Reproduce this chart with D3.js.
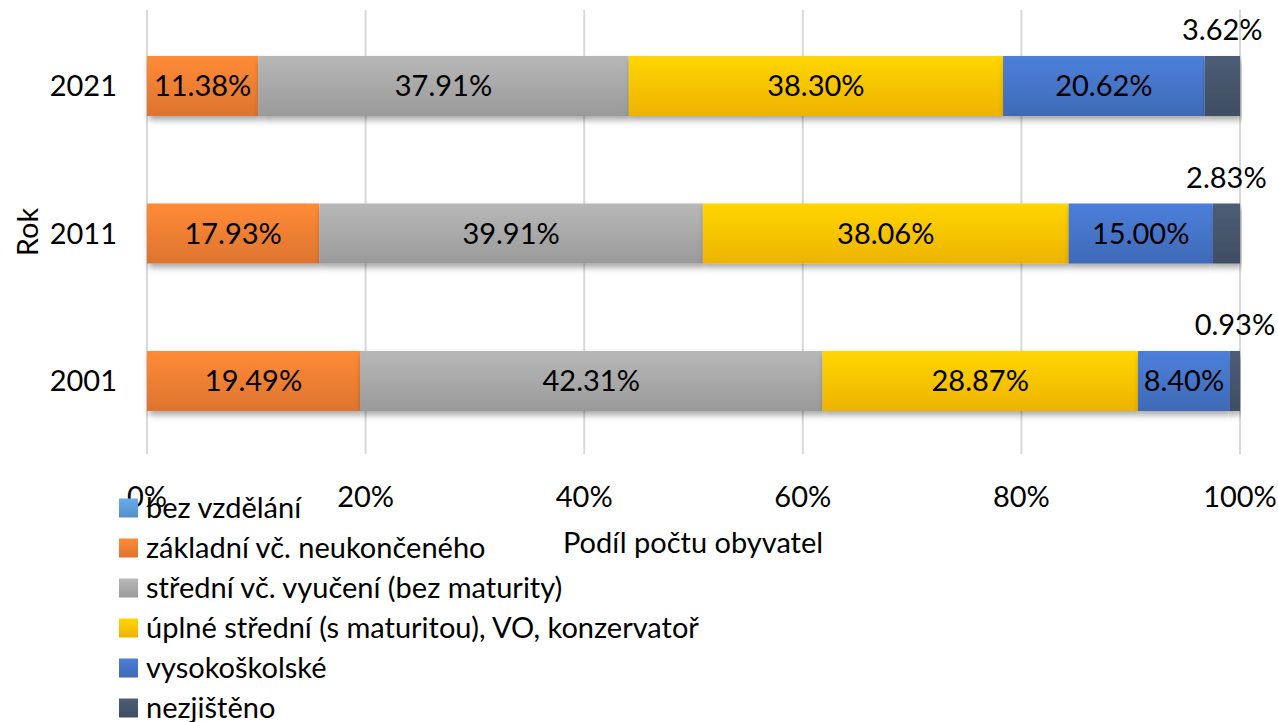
<!DOCTYPE html>
<html>
<head>
<meta charset="utf-8">
<script src="https://cdn.jsdelivr.net/npm/d3@7"></script>
<style>
  body { margin: 0; background: #fff; }
  text { font-family: Lato, "Noto Sans", sans-serif; fill: #000; }
</style>
</head>
<body>
<div id="chart"></div>
<script>
// data
var years = ["2021", "2011", "2001"];
var categories = ["bez vzdělání", "základní vč. neukončeného", "střední vč. vyučení (bez maturity)",
  "úplné střední (s maturitou), VO, konzervatoř", "vysokoškolské", "nezjištěno"];
var colors = ["#5B9BD5", "#ED7D31", "#A5A5A5", "#FFC000", "#4472C4", "#44546A"];
var bezVzdelani = [0, 0, 0];
var zakladni = [11.38, 17.93, 19.49];
var stredni = [37.91, 39.91, 42.31];
var uplneStredni = [38.30, 38.06, 28.87];
var vysokoskolske = [20.62, 15.00, 8.40];
var nezjisteno = [3.62, 2.83, 0.93];
var xTicks = [0, 0.2, 0.4, 0.6, 0.8, 1];

var series = [bezVzdelani, zakladni, stredni, uplneStredni, vysokoskolske, nezjisteno];
var rows = years.map(function(y, i) {
  var r = { year: y };
  categories.forEach(function(c, k) { r[c] = series[k][i]; });
  return r;
});

var width = 1278, height = 722, fs = 29;

var svg = d3.select("#chart").append("svg")
  .attr("width", width)
  .attr("height", height);

var defs = svg.append("defs");
colors.forEach(function(c, k) {
  var g = defs.append("linearGradient")
    .attr("id", "grad" + k)
    .attr("x1", 0).attr("y1", 0).attr("x2", 0).attr("y2", 1);
  g.append("stop").attr("offset", "0%").attr("stop-color", d3.color(c).brighter(0.3));
  g.append("stop").attr("offset", "100%").attr("stop-color", d3.color(c).darker(0.2));
});
var shadow = defs.append("filter").attr("id", "shadow")
  .attr("x", "-5%").attr("y", "-20%").attr("width", "110%").attr("height", "160%");
shadow.append("feDropShadow")
  .attr("dx", 2).attr("dy", 4).attr("stdDeviation", 3)
  .attr("flood-color", "#000").attr("flood-opacity", 0.35);

var x = d3.scaleLinear().domain([0, 1]).range([147, 1240]);
var y = d3.scalePoint().domain(years).range([86, 381]);
var barH = 60;

// gridlines
svg.append("g").selectAll("line")
  .data(xTicks)
  .enter().append("line")
  .attr("x1", function(d) { return x(d); })
  .attr("x2", function(d) { return x(d); })
  .attr("y1", 10)
  .attr("y2", 454)
  .style("stroke", "#d9d9d9")
  .style("stroke-width", "2px");

var stack = d3.stack().keys(categories).offset(d3.stackOffsetExpand);
var stacked = stack(rows);

var layer = svg.append("g").selectAll("g")
  .data(stacked)
  .enter().append("g")
  .attr("fill", function(d, k) { return "url(#grad" + k + ")"; });

layer.selectAll("rect")
  .data(function(d) { return d; })
  .enter().append("rect")
  .attr("x", function(d) { return x(d[0]); })
  .attr("y", function(d) { return y(d.data.year) - barH / 2; })
  .attr("width", function(d) { return x(d[1]) - x(d[0]); })
  .attr("height", barH)
  .style("filter", "url(#shadow)");

// labels
stacked.forEach(function(s, k) {
  if (k === 0) return;
  var last = k === categories.length - 1;
  svg.append("g").selectAll("text")
    .data(s)
    .enter().append("text")
    .attr("x", function(d) { return (x(d[0]) + x(d[1])) / 2; })
    .attr("y", function(d) { return y(d.data.year) + (last ? -56 : 0); })
    .attr("dy", "0.36em")
    .attr("text-anchor", "middle")
    .style("font-size", fs + "px")
    .text(function(d) { return d.data[s.key].toFixed(2) + "%"; });
});

// year labels
svg.append("g").selectAll("text")
  .data(years)
  .enter().append("text")
  .attr("x", 117)
  .attr("y", function(d) { return y(d); })
  .attr("dy", "0.36em")
  .attr("text-anchor", "end")
  .style("font-size", fs + "px")
  .text(function(d) { return d; });

svg.append("text")
  .attr("transform", "translate(38,232) rotate(-90)")
  .attr("text-anchor", "middle")
  .style("font-size", fs + "px")
  .text("Rok");

// x axis labels
svg.append("g").selectAll("text")
  .data(xTicks)
  .enter().append("text")
  .attr("x", function(d) { return x(d); })
  .attr("y", 497)
  .attr("dy", "0.36em")
  .attr("text-anchor", "middle")
  .style("font-size", fs + "px")
  .text(d3.format(".0%"));

svg.append("text")
  .attr("x", 693)
  .attr("y", 543)
  .attr("dy", "0.36em")
  .attr("text-anchor", "middle")
  .style("font-size", fs + "px")
  .text("Podíl počtu obyvatel");

// legend
var legend = svg.append("g").selectAll("g")
  .data(categories)
  .enter().append("g")
  .attr("transform", function(d, k) { return "translate(119," + (508 + k * 40) + ")"; });

legend.append("rect")
  .attr("y", -9.5)
  .attr("width", 19)
  .attr("height", 19)
  .attr("fill", function(d, k) { return "url(#grad" + k + ")"; });

legend.append("text")
  .attr("x", 27)
  .attr("dy", "0.36em")
  .style("font-size", fs + "px")
  .text(function(d) { return d; });
</script>
</body>
</html>
